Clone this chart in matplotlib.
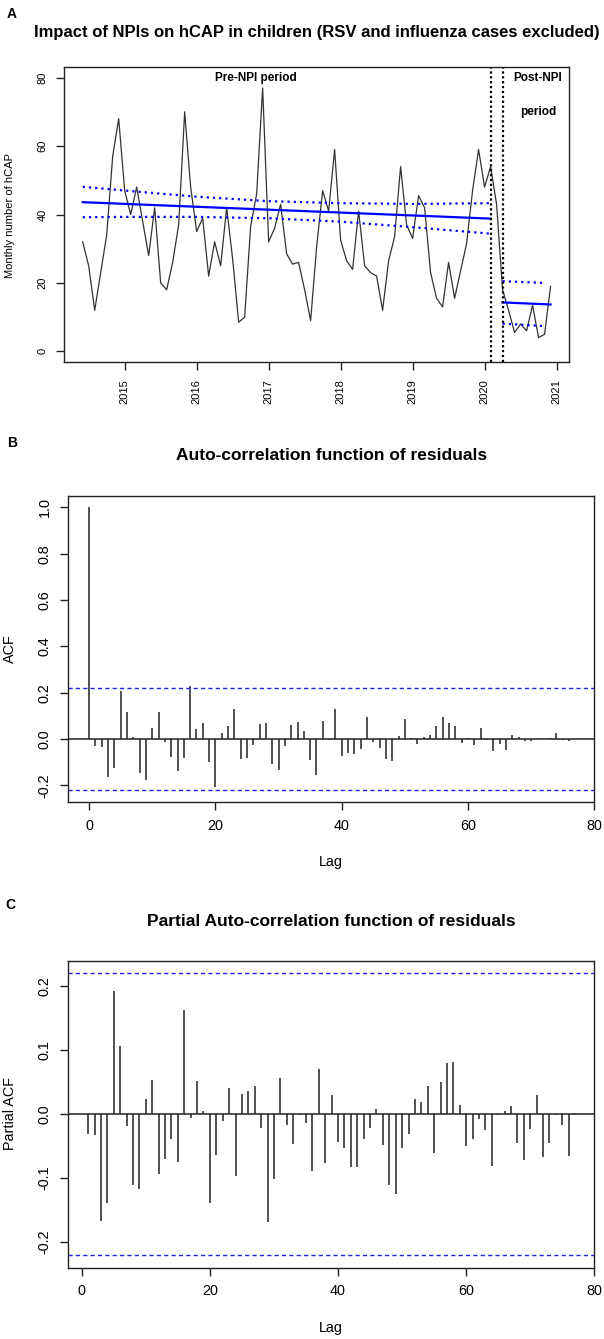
import numpy as np
import matplotlib
matplotlib.use("Agg")
import matplotlib.pyplot as plt

plt.rcParams['font.family'] = ['Liberation Sans', 'DejaVu Sans']
plt.rcParams['axes.unicode_minus'] = False

# monthly hCAP counts, Jun 2014 - Dec 2020
hcap = [32, 25, 12, 23, 34, 57, 68,
        47, 40, 48, 38, 28, 42, 20, 18, 26, 37, 70, 48,
        35, 39, 22, 32, 25, 42, 27, 8.5, 10, 36.5, 46, 77,
        32, 36, 43, 28.5, 25.5, 26, 18, 9, 30.5, 47, 41, 59,
        32.5, 26.5, 24, 41, 25, 23, 22, 12, 26.5, 33.5, 54, 37,
        33, 45.5, 42, 23, 15.5, 13, 26, 15.5, 23.5, 31.5, 47, 59,
        48, 54, 43, 18, 12, 5.5, 8, 6, 13.5, 4, 5, 19]
time = 2014 + 5 / 12 + np.arange(len(hcap)) / 12

# segmented regression fits (pre: Jun 2014-Feb 2020, post: Apr 2020-Dec 2020)
pre_fit_t = [time[0], time[68]]
pre_fit = [43.6, 38.8]
post_fit_t = [time[70], time[78]]
post_fit = [14.3, 13.7]
pre_band_t = [2014.417, 2015.0, 2016.0, 2017.0, 2018.0, 2019.0, 2020.083]
pre_upper = [48.1, 47.0, 45.2, 43.9, 43.3, 43.1, 43.3]
pre_lower = [39.2, 39.3, 39.3, 38.9, 37.9, 36.3, 34.4]
post_band_t = [time[70], time[77]]
post_upper = [20.5, 20.0]
post_lower = [8.1, 7.4]
npi_lines = [time[68], time[70]]
year_ticks = [2015, 2016, 2017, 2018, 2019, 2020, 2021]

# ACF of residuals, lags 0..76
acf = [1.0, -0.03, -0.033, -0.165, -0.127, 0.209, 0.118, 0.01, -0.148, -0.177,
       0.049, 0.118, -0.014, -0.076, -0.138, -0.083, 0.229, 0.043, 0.071, -0.1,
       -0.206, 0.024, 0.056, 0.129, -0.088, -0.081, -0.024, 0.063, 0.068, -0.108,
       -0.134, -0.029, 0.059, 0.075, 0.036, -0.091, -0.157, 0.079, -0.004, 0.131,
       -0.073, -0.059, -0.066, -0.043, 0.096, -0.012, -0.04, -0.086, -0.094, 0.013,
       0.088, 0.006, -0.022, 0.01, 0.017, 0.056, 0.095, 0.068, 0.056, -0.019,
       0.006, -0.027, 0.047, -0.004, -0.052, -0.023, -0.047, 0.016, 0.01, -0.007,
       -0.007, 0.001, 0.0, 0.006, 0.024, -0.006, -0.008]
acf_lags = np.arange(len(acf))

# partial ACF of residuals, lags 1..77
pacf = [-0.031, -0.033, -0.168, -0.139, 0.192, 0.106, -0.019, -0.112, -0.118, 0.023,
        0.053, -0.094, -0.070, -0.039, -0.076, 0.162, -0.006, 0.052, 0.005, -0.140,
        -0.065, -0.011, 0.040, -0.098, 0.031, 0.036, 0.044, -0.022, -0.169, -0.102,
        0.056, -0.017, -0.047, -0.002, -0.015, -0.090, 0.071, -0.077, 0.029, -0.044,
        -0.053, -0.083, -0.083, -0.040, -0.022, 0.008, -0.048, -0.112, -0.125, -0.053,
        -0.032, 0.023, 0.019, 0.043, -0.061, 0.050, 0.079, 0.081, 0.014, -0.050,
        -0.040, -0.008, -0.025, -0.081, -0.002, 0.005, 0.013, -0.045, -0.073, -0.023,
        0.030, -0.067, -0.045, -0.002, -0.018, -0.066, 0.002]
pacf_lags = np.arange(1, len(pacf) + 1)
conf = 0.2215

W, H = 604, 1339
fig = plt.figure(figsize=(W / 100, H / 100), dpi=100)


def px_axes(left, top, right, bottom):
    return fig.add_axes([left / W, 1 - bottom / H, (right - left) / W, (bottom - top) / H])


def px_text(x, y, s, **kw):
    fig.text(x / W, 1 - y / H, s, ha='center', va='center', **kw)


def style(ax, size):
    for s in ax.spines.values():
        s.set_linewidth(1.0)
        s.set_color('#222222')
    ax.tick_params(direction='out', length=6, width=1.0, color='#222222', labelsize=size, pad=6)


# ---- panel A ----
axA = px_axes(64, 66.7, 569.3, 362.3)
style(axA, 8)
axA.plot(time, hcap, color='#333333', lw=0.9)
axA.plot(pre_fit_t, pre_fit, color='blue', lw=1.6)
axA.plot(post_fit_t, post_fit, color='blue', lw=1.6)
for yb in (pre_upper, pre_lower):
    axA.plot(pre_band_t, yb, color='blue', lw=1.6, linestyle=(0, (1, 1.8)))
for yb in (post_upper, post_lower):
    axA.plot(post_band_t, yb, color='blue', lw=1.6, linestyle=(0, (1, 1.8)))
for xv in npi_lines:
    axA.axvline(xv, color='black', lw=1.6, linestyle=(0, (1, 1.2)))
axA.set_xlim(2014.157, 2021.177)
axA.set_ylim(-3.2, 83.2)
axA.set_xticks(year_ticks)
axA.set_xticklabels([str(y) for y in year_ticks], rotation=90)
axA.set_yticks([0, 20, 40, 60, 80])
axA.set_yticklabels(['0', '20', '40', '60', '80'], rotation=90, va='center')
axA.text(2016.82, 79.8, 'Pre-NPI period', fontsize=8.5, fontweight='bold', ha='center', va='center')
axA.text(2020.74, 79.8, 'Post-NPI', fontsize=8.5, fontweight='bold', ha='center', va='center')
axA.text(2020.74, 70.1, 'period', fontsize=8.5, fontweight='bold', ha='center', va='center')
px_text(10, 216, 'Monthly number of hCAP', rotation=90, fontsize=8)
px_text(316.5, 33, 'Impact of NPIs on hCAP in children (RSV and influenza cases excluded)',
        fontsize=12, fontweight='bold')
px_text(12, 14, 'A', fontsize=10, fontweight='bold')


def corr_panel(ax, lags, vals, xlim, ylim, yticks):
    style(ax, 10.4)
    ax.vlines(lags, 0, vals, color='#222222', lw=1.1)
    ax.axhline(0, color='#222222', lw=1.1)
    for c in (conf, -conf):
        ax.axhline(c, color='#2222ee', lw=1.0, linestyle=(0, (3, 2.3)))
    ax.set_xlim(*xlim)
    ax.set_ylim(*ylim)
    ax.set_xticks([0, 20, 40, 60, 80])
    ax.set_yticks(yticks)
    ax.set_yticklabels(['%.1f' % v for v in yticks], rotation=90, va='center')


# ---- panel B ----
axB = px_axes(68.3, 495.7, 594.3, 802.3)
corr_panel(axB, acf_lags, acf, (-3.3, 80), (-0.273, 1.05),
           [-0.2, 0.0, 0.2, 0.4, 0.6, 0.8, 1.0])
px_text(10, 649, 'ACF', rotation=90, fontsize=10.4)
px_text(331.3, 862, 'Lag', fontsize=10.4)
px_text(331.3, 456, 'Auto-correlation function of residuals', fontsize=12.5, fontweight='bold')
px_text(12, 443, 'B', fontsize=10, fontweight='bold')

# ---- panel C ----
axC = px_axes(68.3, 960.7, 594.3, 1267.7)
corr_panel(axC, pacf_lags, pacf, (-2.1, 80), (-0.241, 0.240),
           [-0.2, -0.1, 0.0, 0.1, 0.2])
px_text(10, 1114, 'Partial ACF', rotation=90, fontsize=10.4)
px_text(331.3, 1328, 'Lag', fontsize=10.4)
px_text(331.3, 921, 'Partial Auto-correlation function of residuals', fontsize=12.5, fontweight='bold')
px_text(10, 905, 'C', fontsize=10, fontweight='bold')

fig.savefig('out.png', dpi=100, facecolor='white')
